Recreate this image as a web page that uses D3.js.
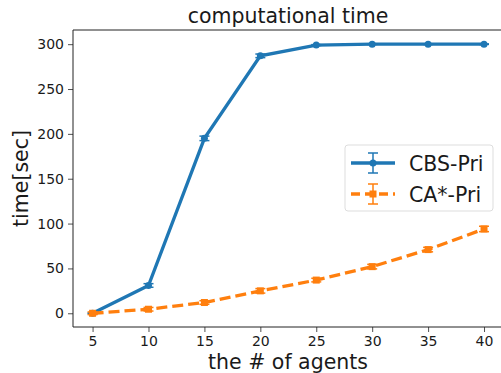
<!DOCTYPE html>
<html>
<head>
<meta charset="UTF-8">
<style>
  body { margin: 0; background: #fff; }
  text { font-family: 'DejaVu Sans', sans-serif; fill: #1a1a1a; }
  .tick text { font-size: 14px; }
  .tick line { stroke: #222; }
  .domain { stroke: #222; }
</style>
</head>
<body>
<svg id="chart" width="501" height="373"></svg>
<script src="https://d3js.org/d3.v7.min.js"></script>
<script>
// data
const agents = [5, 10, 15, 20, 25, 30, 35, 40];
const cbsPri = [0, 31, 195, 287, 299, 300, 300, 300];
const cbsErr = [0.5, 2, 2.5, 2, 0.5, 0.3, 0.3, 0.3];
const caPri = [0, 4.5, 12, 25, 37, 52, 71, 94];
const caErr = [1.5, 2, 2, 2.5, 2, 2.5, 2.5, 3];
const xTicks = [5, 10, 15, 20, 25, 30, 35, 40];
const yTicks = [0, 50, 100, 150, 200, 250, 300];

const plotLeft = 73, plotTop = 30, plotRight = 503.6, plotBottom = 327;

const svg = d3.select("#chart");

const x = d3.scaleLinear().domain([3.25, 41.75]).range([plotLeft, plotRight]);
const y = d3.scaleLinear().domain([-15.3, 315.8]).range([plotBottom, plotTop]);

// axes
svg.append("g")
  .attr("transform", "translate(0," + plotBottom + ")")
  .call(d3.axisBottom(x).tickValues(xTicks).tickSize(5).tickPadding(4).tickSizeOuter(0))
  .call(g => g.select(".domain").attr("d", "M" + plotLeft + ",0H" + plotRight));
svg.append("g")
  .attr("transform", "translate(" + plotLeft + ",0)")
  .call(d3.axisLeft(y).tickValues(yTicks).tickSize(5).tickPadding(4).tickSizeOuter(0))
  .call(g => g.select(".domain").attr("d", "M0," + plotBottom + "V" + plotTop));
svg.append("line")
  .attr("x1", plotLeft).attr("x2", plotRight).attr("y1", plotTop).attr("y2", plotTop)
  .attr("stroke", "#222");
svg.selectAll(".tick line").attr("stroke-width", 0.8);

svg.append("text")
  .attr("x", 288).attr("y", 23)
  .attr("text-anchor", "middle").style("font-size", "20.5px")
  .text("computational time");
svg.append("text")
  .attr("x", 288).attr("y", 369)
  .attr("text-anchor", "middle").style("font-size", "20.5px")
  .text("the # of agents");
svg.append("text")
  .attr("transform", "translate(28," + ((plotTop + plotBottom) / 2) + ") rotate(-90)")
  .attr("text-anchor", "middle").style("font-size", "20.5px")
  .text("time[sec]");

const series = [
  { name: "CBS-Pri", vals: cbsPri, err: cbsErr, color: "#1f77b4", dash: null, marker: "circle" },
  { name: "CA*-Pri", vals: caPri, err: caErr, color: "#ff7f0e", dash: "11,5", marker: "square" }
];

const line = d3.line().x(d => x(d[0])).y(d => y(d[1]));

series.forEach(s => {
  const pts = agents.map((a, i) => [a, s.vals[i], s.err[i]]);
  const g = svg.append("g");
  g.append("path")
    .datum(pts)
    .attr("fill", "none")
    .attr("stroke", s.color)
    .attr("stroke-width", 3.3)
    .attr("stroke-dasharray", s.dash)
    .attr("d", line);
  // error bars
  pts.forEach(p => {
    g.append("line")
      .attr("x1", x(p[0])).attr("x2", x(p[0]))
      .attr("y1", y(p[1] - p[2])).attr("y2", y(p[1] + p[2]))
      .attr("stroke", s.color).attr("stroke-width", 1.5);
    [p[1] - p[2], p[1] + p[2]].forEach(v => {
      g.append("line")
        .attr("x1", x(p[0]) - 5).attr("x2", x(p[0]) + 5)
        .attr("y1", y(v)).attr("y2", y(v))
        .attr("stroke", s.color).attr("stroke-width", 1.5);
    });
  });
  // markers
  if (s.marker === "circle") {
    g.selectAll("circle").data(pts).join("circle")
      .attr("cx", d => x(d[0])).attr("cy", d => y(d[1]))
      .attr("r", 3.5).attr("fill", s.color);
  } else {
    g.selectAll("rect").data(pts).join("rect")
      .attr("x", d => x(d[0]) - 3.5).attr("y", d => y(d[1]) - 3.5)
      .attr("width", 7).attr("height", 7).attr("fill", s.color);
  }
});

// legend
const lg = svg.append("g").attr("transform", "translate(345,145)");
lg.append("rect")
  .attr("width", 148).attr("height", 66).attr("rx", 3)
  .attr("fill", "#fff").attr("fill-opacity", 0.8)
  .attr("stroke", "#ddd");
series.forEach((s, i) => {
  const cy = 18 + i * 31;
  lg.append("line")
    .attr("x1", 6).attr("x2", 50).attr("y1", cy).attr("y2", cy)
    .attr("stroke", s.color).attr("stroke-width", 3.3)
    .attr("stroke-dasharray", s.dash ? "9,5" : null);
  lg.append("line")
    .attr("x1", 28).attr("x2", 28).attr("y1", cy - 10).attr("y2", cy + 10)
    .attr("stroke", s.color).attr("stroke-width", 1.5);
  [cy - 10, cy + 10].forEach(v => {
    lg.append("line").attr("x1", 23).attr("x2", 33).attr("y1", v).attr("y2", v)
      .attr("stroke", s.color).attr("stroke-width", 1.5);
  });
  if (s.marker === "circle") {
    lg.append("circle").attr("cx", 28).attr("cy", cy).attr("r", 3.5).attr("fill", s.color);
  } else {
    lg.append("rect").attr("x", 24.5).attr("y", cy - 3.5).attr("width", 7).attr("height", 7).attr("fill", s.color);
  }
  lg.append("text")
    .attr("x", 64).attr("y", cy + 7.5)
    .style("font-size", "20.5px")
    .text(s.name);
});
</script>
</body>
</html>
